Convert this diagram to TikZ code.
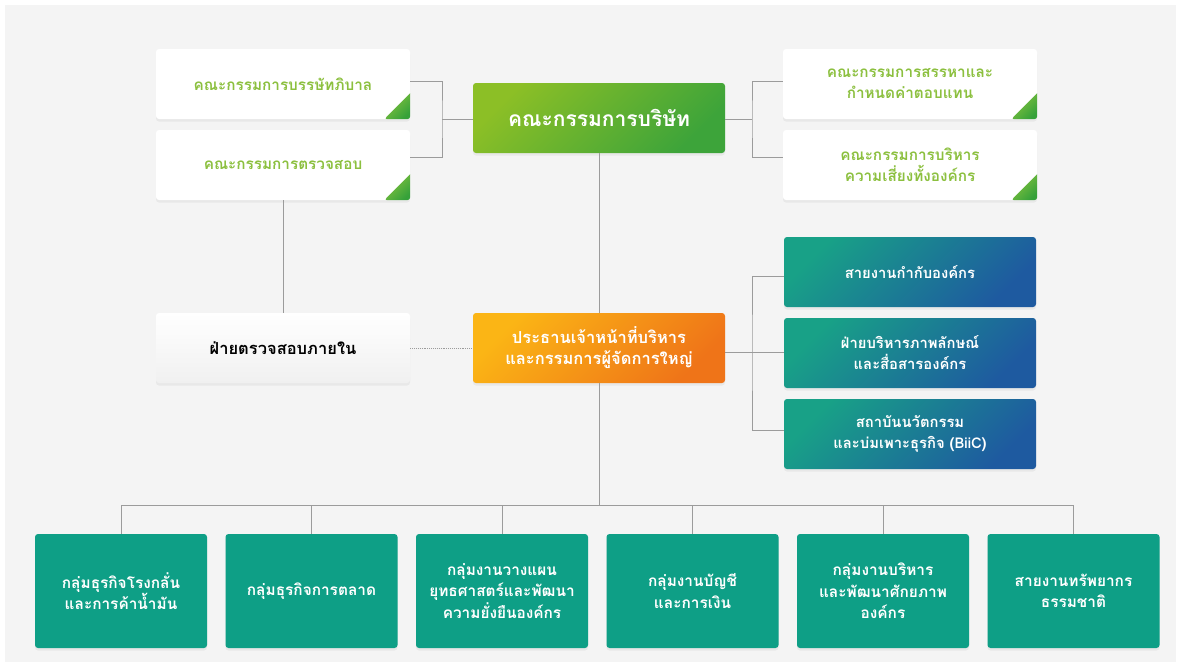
\documentclass[tikz,border=0pt]{standalone}
\usepackage{fontspec}
\newfontfamily\thai[Script=Thai]{Loma}
\usetikzlibrary{shadows,calc}
\definecolor{bgc}{HTML}{F4F4F4}
\definecolor{connc}{HTML}{9B9B9B}
\definecolor{gtext}{HTML}{8CC03F}
\definecolor{brdA}{HTML}{8CBF26}
\definecolor{brdB}{HTML}{3DA43A}
\definecolor{ceoA}{HTML}{FBB515}
\definecolor{ceoB}{HTML}{EF7418}
\definecolor{bluA}{HTML}{18A187}
\definecolor{bluB}{HTML}{1E5AA0}
\definecolor{tealc}{HTML}{0E9F86}
\definecolor{triA}{HTML}{8CC63F}
\definecolor{triB}{HTML}{36A13A}
\definecolor{iaB}{HTML}{F0F0F0}
\tikzset{
  conn/.style={draw=connc, line width=0.9pt},
  boxbase/.style={rectangle, rounded corners=3pt, inner sep=0pt, align=center,
    drop shadow={opacity=0.10, shadow xshift=0pt, shadow yshift=-2.5pt}},
  wbox/.style={boxbase, fill=white, minimum width=254pt, minimum height=70pt,
    text=gtext, font=\thai\bfseries\fontsize{15.3}{21}\selectfont},
  boardbox/.style={boxbase, top color=brdA, bottom color=brdB, shading angle=45,
    minimum width=252pt, minimum height=70pt, text=white,
    font=\thai\bfseries\fontsize{21}{24}\selectfont},
  ceobox/.style={boxbase, top color=ceoA, bottom color=ceoB, shading angle=45,
    minimum width=252pt, minimum height=70pt, text=white,
    font=\thai\bfseries\fontsize{16.5}{21}\selectfont},
  iabox/.style={boxbase, top color=white, bottom color=iaB,
    minimum width=254pt, minimum height=70pt, text=black,
    font=\thai\bfseries\fontsize{16.5}{21}\selectfont},
  bluebox/.style={boxbase, top color=bluA, bottom color=bluB, shading angle=45,
    minimum width=252pt, minimum height=70pt, text=white,
    font=\thai\bfseries\fontsize{14.8}{21}\selectfont},
  grpbox/.style={boxbase, fill=tealc, minimum width=172pt, minimum height=114pt,
    text=white, font=\thai\bfseries\fontsize{15.4}{21.5}\selectfont},
}
\newcommand{\cornertri}[1]{%
  \shade[top color=triA, bottom color=triB, shading angle=45]
    ([yshift=26pt]#1.south east) [rounded corners=3pt] -- (#1.south east)
    -- ([xshift=-26pt]#1.south east) [sharp corners] -- cycle;}
\begin{document}
\begin{tikzpicture}[x=1pt,y=-1pt]
\useasboundingbox (0,0) rectangle (1181,667);
\fill[white] (0,0) rectangle (1181,667);
\fill[bgc] (5,5) rectangle (1176,662);

% top row
\node[wbox] (tl1) at (283,84) {คณะกรรมการบรรษัทภิบาล};
\node[wbox] (tl2) at (283,165) {คณะกรรมการตรวจสอบ};
\node[boardbox] (board) at (599,118) {คณะกรรมการบริษัท};
\node[wbox] (tr1) at (910,84) {คณะกรรมการสรรหาและ\\กำหนดค่าตอบแทน};
\node[wbox] (tr2) at (910,165) {คณะกรรมการบริหาร\\ความเสี่ยงทั้งองค์กร};
\cornertri{tl1}
\cornertri{tl2}
\cornertri{tr1}
\cornertri{tr2}

% middle row
\node[iabox] (ia) at (283,348) {ฝ่ายตรวจสอบภายใน};
\node[ceobox] (ceo) at (599,348) {ประธานเจ้าหน้าที่บริหาร\\และกรรมการผู้จัดการใหญ่};
\node[bluebox] (bl1) at (910,272) {สายงานกำกับองค์กร};
\node[bluebox] (bl2) at (910,353) {ฝ่ายบริหารภาพลักษณ์\\และสื่อสารองค์กร};
\node[bluebox] (bl3) at (910,434) {สถาบันนวัตกรรม\\และบ่มเพาะธุรกิจ (BiiC)};

% bottom row
\node[grpbox] (g1) at (121,591) {กลุ่มธุรกิจโรงกลั่น\\และการค้าน้ำมัน};
\node[grpbox] (g2) at (311.5,591) {กลุ่มธุรกิจการตลาด};
\node[grpbox] (g3) at (502,591) {กลุ่มงานวางแผน\\ยุทธศาสตร์และพัฒนา\\ความยั่งยืนองค์กร};
\node[grpbox] (g4) at (692.5,591) {กลุ่มงานบัญชี\\และการเงิน};
\node[grpbox] (g5) at (883,591) {กลุ่มงานบริหาร\\และพัฒนาศักยภาพ\\องค์กร};
\node[grpbox] (g6) at (1073.5,591) {สายงานทรัพยากร\\ธรรมชาติ};

% connectors
\coordinate (lbr) at (442,119);
\coordinate (rbr) at (752,119);
\coordinate (rbr2) at (752,352);
\coordinate (hb) at (599,505);
\draw[conn] ([yshift=3pt]tl1.east) -| (lbr) |- ([yshift=8pt]tl2.east);
\draw[conn] (lbr) -- (lbr -| board.west);
\draw[conn] ([yshift=3pt]tr1.west) -| (rbr) |- ([yshift=8pt]tr2.west);
\draw[conn] (rbr -| board.east) -- (rbr);
\draw[conn] (board.south) -- (ceo.north);
\draw[conn] (tl2.south) -- (ia.north);
\draw[conn, densely dotted] (ia.east) -- (ceo.west);
\draw[conn] (rbr2 -| ceo.east) -- (rbr2);
\draw[conn] ([yshift=-4pt]bl1.west) -| (rbr2) |- ([yshift=4pt]bl3.west);
\draw[conn] (rbr2) -- (rbr2 -| bl2.west);
\draw[conn] (ceo.south) -- (hb);
\draw[conn] (g1.north) |- (hb -| g6.north) -- (g6.north);
\foreach \g in {g2,g3,g4,g5} {\draw[conn] (\g.north) -- (\g.north |- hb);}
\end{tikzpicture}
\end{document}
